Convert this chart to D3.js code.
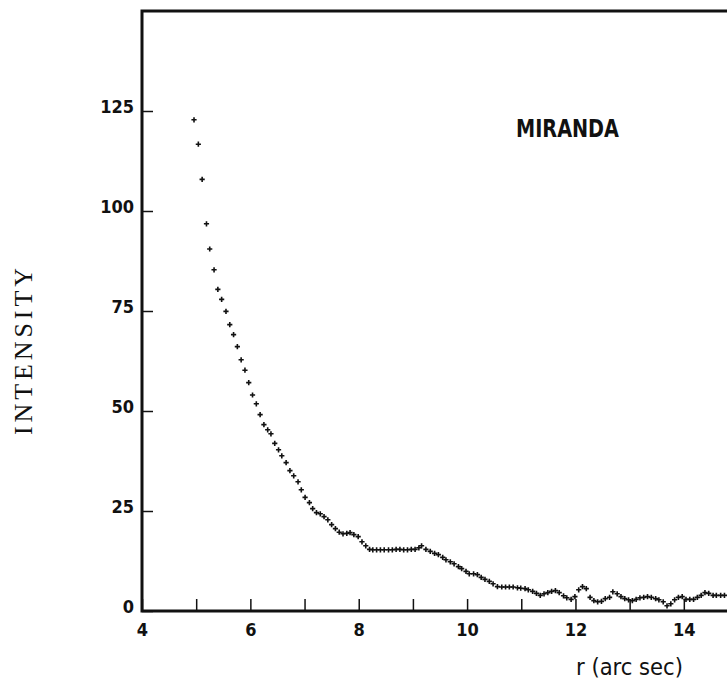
<!DOCTYPE html>
<html>
<head>
<meta charset="utf-8">
<script src="https://cdn.jsdelivr.net/npm/d3@7"></script>
<style>
  html, body { margin: 0; padding: 0; background: #fff; overflow: hidden; }
  .lbl { font-family: "Liberation Sans Narrow", "DejaVu Sans Condensed", sans-serif; font-weight: bold; fill: #111; }
</style>
</head>
<body>
<svg id="chart" width="727" height="681"></svg>
<script>
"use strict";

// radius (arc sec)
const radius = [
  4.96, 5.04, 5.11, 5.19, 5.25, 5.33, 5.40, 5.47, 5.55, 5.62,
  5.69, 5.76, 5.83, 5.90, 5.97, 6.04, 6.11, 6.18, 6.25, 6.32,
  6.38, 6.45, 6.52, 6.58, 6.66, 6.73, 6.80, 6.88, 6.94, 7.01,
  7.09, 7.15, 7.22, 7.29, 7.36, 7.43, 7.50, 7.57, 7.64, 7.71,
  7.78, 7.84, 7.91, 7.99, 8.06, 8.13, 8.20, 8.26, 8.33, 8.40,
  8.47, 8.55, 8.62, 8.69, 8.76, 8.83, 8.90, 8.97, 9.04, 9.11,
  9.16, 9.24, 9.32, 9.40, 9.47, 9.55, 9.61, 9.69, 9.76, 9.84,
  9.90, 9.98, 10.04, 10.12, 10.19, 10.26, 10.33, 10.41, 10.48, 10.56,
  10.64, 10.71, 10.78, 10.85, 10.93, 10.99, 11.07, 11.13, 11.21, 11.28,
  11.35, 11.42, 11.49, 11.56, 11.63, 11.70, 11.78, 11.84, 11.92, 11.99,
  12.06, 12.13, 12.20, 12.27, 12.34, 12.41, 12.48, 12.55, 12.63, 12.69,
  12.77, 12.84, 12.91, 12.98, 13.05, 13.12, 13.19, 13.26, 13.33, 13.40,
  13.48, 13.54, 13.62, 13.69, 13.76, 13.83, 13.90, 13.97, 14.04, 14.11,
  14.18, 14.25, 14.32, 14.39, 14.46, 14.54, 14.60, 14.68, 14.75
];

const intensity = [
  122.8, 116.7, 107.9, 96.8, 90.5, 85.3, 80.4, 77.9, 74.9, 71.6,
  69.1, 66.1, 62.8, 60.2, 57.1, 54.0, 51.8, 49.1, 46.6, 45.3,
  44.3, 41.9, 40.3, 38.8, 37.1, 35.1, 33.8, 32.3, 30.3, 28.4,
  27.1, 25.6, 24.6, 24.3, 23.6, 22.8, 21.6, 20.6, 19.7, 19.3,
  19.4, 19.6, 19.1, 18.6, 17.3, 16.3, 15.4, 15.3, 15.3, 15.3,
  15.3, 15.3, 15.3, 15.4, 15.4, 15.3, 15.3, 15.4, 15.4, 15.8,
  16.3, 15.4, 14.9, 14.4, 14.1, 13.4, 12.8, 12.3, 11.8, 11.1,
  10.6, 9.9, 9.3, 9.3, 9.1, 8.4, 7.9, 7.4, 6.8, 6.1,
  6.0, 6.0, 6.0, 6.0, 5.8, 5.7, 5.6, 5.3, 4.9, 4.4,
  3.9, 4.3, 4.6, 4.9, 5.1, 4.6, 3.8, 3.3, 2.9, 3.6,
  5.3, 6.1, 5.6, 3.4, 2.6, 2.3, 2.4, 3.1, 3.4, 4.8,
  4.3, 3.6, 3.1, 2.8, 2.6, 2.9, 3.3, 3.4, 3.6, 3.4,
  3.1, 2.8, 2.3, 1.3, 1.8, 2.8, 3.4, 3.6, 2.9, 2.9,
  2.9, 3.4, 3.9, 4.6, 4.4, 3.9, 3.9, 3.9, 3.9
];

const xTicks = [4, 5, 6, 7, 8, 9, 10, 11, 12, 13, 14, 15];
const xTickLabels = ["4", "", "6", "", "8", "", "10", "", "12", "", "14", ""];
const yTicks = [0, 25, 50, 75, 100, 125];

const svg = d3.select("#chart");

const x = d3.scaleLinear().domain([4, 15]).range([142, 738]);
const y = d3.scaleLinear().domain([0, 150]).range([611, 11]);

// frame: left, top, bottom (right edge falls outside the page)
svg.append("path")
    .attr("d", "M" + x(15) + "," + y(150) + "H" + x(4) + "V" + y(0) + "H" + x(15))
    .attr("fill", "none")
    .attr("stroke", "#111")
    .attr("stroke-width", 3);

const yAxis = svg.append("g")
    .attr("transform", "translate(" + x(4) + ",0)")
    .call(d3.axisLeft(y).tickValues(yTicks).tickSize(-11).tickPadding(8));
yAxis.select(".domain").remove();
yAxis.selectAll(".tick line").attr("stroke", "#111").attr("stroke-width", 1.5);
yAxis.selectAll(".tick text")
    .attr("class", "lbl")
    .attr("font-size", 18)
    .attr("dy", "0.1em");

const xAxis = svg.append("g")
    .attr("transform", "translate(0," + y(0) + ")")
    .call(d3.axisBottom(x).tickValues(xTicks)
        .tickFormat((d, i) => xTickLabels[i])
        .tickSize(-12).tickPadding(12));
xAxis.select(".domain").remove();
xAxis.selectAll(".tick line").attr("stroke", "#111").attr("stroke-width", 1.5);
xAxis.selectAll(".tick text")
    .attr("class", "lbl")
    .attr("font-size", 18);

// data: small plus marks
const pts = radius.map((r, i) => ({ r: r, v: intensity[i] }));
const arm = 2.6;
svg.append("g")
    .selectAll("path")
    .data(pts)
    .enter()
    .append("path")
    .attr("d", (d) => {
        let px = x(d.r), py = y(d.v);
        return "M" + (px - arm) + "," + py + "H" + (px + arm) +
               "M" + px + "," + (py - arm) + "V" + (py + arm);
    })
    .attr("stroke", "#111")
    .attr("stroke-width", 1.6);

// texts
svg.append("text")
    .attr("class", "lbl")
    .attr("x", 516)
    .attr("y", 137)
    .attr("font-size", 25)
    .attr("textLength", 103)
    .attr("lengthAdjust", "spacingAndGlyphs")
    .text("MIRANDA");

svg.append("text")
    .attr("class", "lbl")
    .attr("x", 576)
    .attr("y", 675)
    .attr("font-size", 23)
    .attr("textLength", 107)
    .attr("lengthAdjust", "spacingAndGlyphs")
    .style("font-weight", "normal")
    .text("r (arc sec)");

svg.append("text")
    .attr("transform", "translate(32,435) rotate(-90)")
    .attr("font-family", "'Liberation Serif', 'DejaVu Serif', serif")
    .attr("font-size", 26)
    .attr("textLength", 167)
    .attr("fill", "#111")
    .text("INTENSITY");
</script>
</body>
</html>
